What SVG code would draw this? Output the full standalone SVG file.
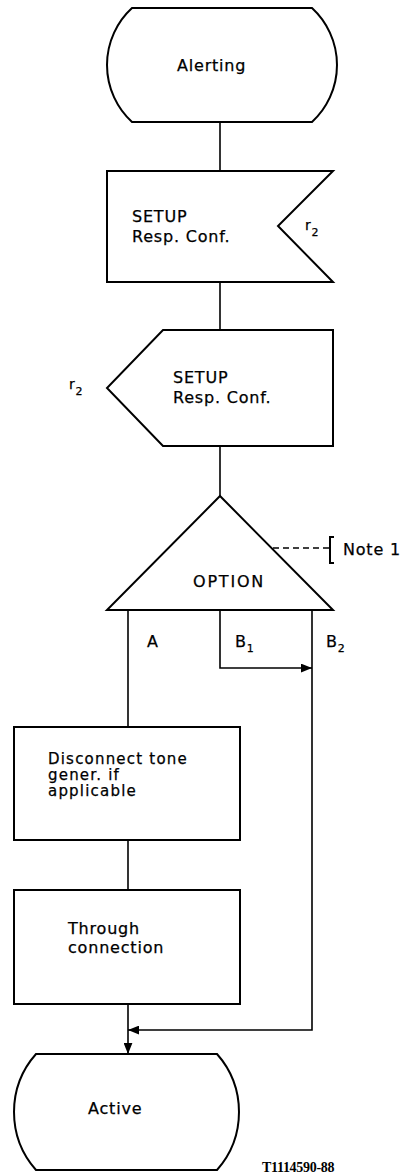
<svg xmlns="http://www.w3.org/2000/svg" width="405" height="1175" viewBox="0 0 405 1175">
<style>
.shape{fill:#fff;stroke:#000;stroke-width:2;stroke-linejoin:miter}
.conn{fill:none;stroke:#000;stroke-width:1.6}
.dash{fill:none;stroke:#000;stroke-width:1.5;stroke-dasharray:6,4}
text{font-family:"DejaVu Sans","Liberation Sans",sans-serif;font-size:16px;letter-spacing:0.8px;fill:#000;stroke:#000;stroke-width:0.25}
.sub{font-size:11px}
.small{font-size:14px}
.tight{font-size:15px;letter-spacing:1.2px}
.ref{font-family:"Liberation Serif",serif;font-size:14px;font-weight:bold;letter-spacing:-0.3px;stroke:none}
</style>
<defs>
<marker id="arr" viewBox="0 0 10 8" refX="10" refY="4" markerWidth="11" markerHeight="9" markerUnits="userSpaceOnUse" orient="auto">
<path d="M0,0 L10,4 L0,8 Z" fill="#000"/>
</marker>
</defs>
<g id="connectors">
<line class="conn" x1="220" y1="122" x2="220" y2="171"/>
<line class="conn" x1="220" y1="282" x2="220" y2="330"/>
<line class="conn" x1="220" y1="446" x2="220" y2="496"/>
<line class="conn" x1="128" y1="610" x2="128" y2="727"/>
<polyline class="conn" points="220,610 220,668 312,668" marker-end="url(#arr)"/>
<polyline class="conn" points="312,610 312,1030 128,1030" marker-end="url(#arr)"/>
<line class="conn" x1="128" y1="840" x2="128" y2="890"/>
<line class="conn" x1="128" y1="1004" x2="128" y2="1054" marker-end="url(#arr)"/>
<polyline class="dash" points="273,548 330,548"/>
<path class="conn" style="stroke-width:2" d="M334,537 L330,537 L330,563 L334,563"/>
</g>
<g id="alerting">
<path class="shape" d="M132,8 L312,8 A77.5,77.5 0 0 1 312,122 L132,122 A77.5,77.5 0 0 1 132,8 Z"/>
<text x="177" y="71">Alerting</text>
</g>
<g id="setup-input">
<path class="shape" d="M107,171 L333,171 L278,226 L333,282 L107,282 Z"/>
<text x="132" y="222">SETUP</text>
<text x="132" y="242">Resp. Conf.</text>
<text x="305" y="230" class="small">r<tspan class="sub" dy="6">2</tspan></text>
</g>
<g id="setup-output">
<path class="shape" d="M163,330 L333,330 L333,446 L163,446 L107,388 Z"/>
<text x="173" y="383">SETUP</text>
<text x="173" y="403">Resp. Conf.</text>
<text x="69" y="389" class="small">r<tspan class="sub" dy="6">2</tspan></text>
</g>
<g id="option">
<path class="shape" d="M220,496 L333,610 L107,610 Z"/>
<text x="193" y="587" style="letter-spacing:1.8px">OPTION</text>
<text x="343" y="555">Note 1</text>
</g>
<g id="labels">
<text x="147" y="647">A</text>
<text x="235" y="647">B<tspan class="sub" dy="5">1</tspan></text>
<text x="326" y="647">B<tspan class="sub" dy="5">2</tspan></text>
</g>
<g id="disconnect">
<rect class="shape" x="14" y="727" width="226" height="113"/>
<text class="tight" x="48" y="764">Disconnect tone</text>
<text class="tight" x="48" y="780">gener. if</text>
<text class="tight" x="48" y="796">applicable</text>
</g>
<g id="through">
<rect class="shape" x="14" y="890" width="226" height="114"/>
<text x="68" y="934">Through</text>
<text x="68" y="953">connection</text>
</g>
<g id="active">
<path class="shape" d="M36,1054 L217,1054 A87.5,87.5 0 0 1 217,1170 L36,1170 A87.5,87.5 0 0 1 36,1054 Z"/>
<text x="88" y="1114">Active</text>
</g>
<text class="ref" x="262" y="1172">T1114590-88</text>
</svg>
